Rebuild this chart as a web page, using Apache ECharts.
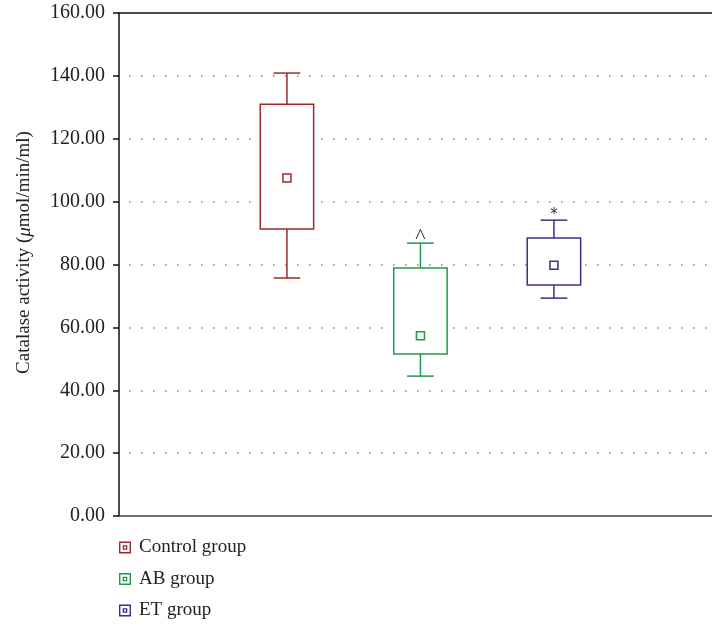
<!DOCTYPE html>
<html>
<head>
<meta charset="utf-8">
<script src="https://cdn.jsdelivr.net/npm/echarts@6/dist/echarts.min.js"></script>
<style>
  html, body { margin: 0; padding: 0; background: #fff; }
  #chart { width: 712px; height: 627px; }
</style>
</head>
<body>
<div id="chart"></div>
<script>
// Catalase activity per group: whisker ends, quartiles and centre marker
const groups   = ['Control group', 'AB group', 'ET group'];
const lowValues  = [75.7, 44.5, 69.3];
const q1Values   = [91.3, 51.5, 73.5];
const midValues  = [107.5, 57.3, 79.8];
const q3Values   = [131.0, 78.9, 88.4];
const highValues = [140.9, 86.8, 94.1];
const significance = ['', '^', '*'];
const colors = ['#9e2b2b', '#1f9a48', '#33338c'];
const yTicks = [0, 20, 40, 60, 80, 100, 120, 140, 160];

const serif = '"Liberation Serif", "DejaVu Serif", serif';

function renderBox(params, api) {
  const x = api.value(0);
  const low = api.value(1), q1 = api.value(2), mid = api.value(3),
        q3 = api.value(4), high = api.value(5);
  const g = params.seriesIndex;
  const c = colors[g];
  const pLow = api.coord([x, low]);
  const pQ1 = api.coord([x, q1]);
  const pMid = api.coord([x, mid]);
  const pQ3 = api.coord([x, q3]);
  const pHigh = api.coord([x, high]);
  const halfBox = api.size([0.2, 0])[0];
  const halfCap = api.size([0.1, 0])[0];
  const cx = pMid[0];
  const line = { stroke: c, lineWidth: 1.5 };
  const children = [
    { type: 'line', shape: { x1: cx, y1: pHigh[1], x2: cx, y2: pQ3[1] }, style: line },
    { type: 'line', shape: { x1: cx, y1: pQ1[1], x2: cx, y2: pLow[1] }, style: line },
    { type: 'line', shape: { x1: cx - halfCap, y1: pHigh[1], x2: cx + halfCap, y2: pHigh[1] }, style: line },
    { type: 'line', shape: { x1: cx - halfCap, y1: pLow[1], x2: cx + halfCap, y2: pLow[1] }, style: line },
    { type: 'rect', shape: { x: cx - halfBox, y: pQ3[1], width: 2 * halfBox, height: pQ1[1] - pQ3[1] },
      style: { fill: '#fff', stroke: c, lineWidth: 1.5 } },
    { type: 'rect', shape: { x: cx - 4, y: pMid[1] - 4, width: 8, height: 8 },
      style: { fill: '#fff', stroke: c, lineWidth: 1.5 } }
  ];
  const mark = significance[g];
  if (mark) {
    // significance marks sit just above the upper whisker cap
    const caret = mark === '^';
    children.push({
      type: 'text',
      style: {
        text: mark, x: cx, y: pHigh[1] - (caret ? 17 : 13),
        align: 'center', verticalAlign: 'top',
        fontFamily: caret ? serif : '"DejaVu Sans", sans-serif',
        fontSize: caret ? 22 : 15, fill: '#333'
      }
    });
  }
  return { type: 'group', children: children };
}

const series = groups.map((name, i) => ({
  name: name,
  type: 'custom',
  renderItem: renderBox,
  itemStyle: { color: colors[i] },
  encode: { x: 0, y: [1, 2, 3, 4, 5] },
  data: [[i + 1, lowValues[i], q1Values[i], midValues[i], q3Values[i], highValues[i]]],
  z: 3
}));

// legend marker: outlined square with a small outlined square inside
const legendIcon = 'path://M0,0L11,0L11,11L0,11Z M1.3,1.3L1.3,9.7L9.7,9.7L9.7,1.3Z ' +
  'M3.4,3.4L7.6,3.4L7.6,7.6L3.4,7.6Z M4.6,4.6L4.6,6.4L6.4,6.4L6.4,4.6Z';

const chart = echarts.init(document.getElementById('chart'), null, { renderer: 'canvas' });
chart.setOption({
  animation: false,
  backgroundColor: '#fff',
  grid: { left: 119, top: 13, right: 0, bottom: 111, containLabel: false, outerBoundsMode: 'none' },
  legend: {
    data: groups,
    orient: 'vertical',
    left: 119,
    top: 538,
    padding: 0,
    itemWidth: 12,
    itemHeight: 12,
    itemGap: 12.5,
    icon: legendIcon,
    selectedMode: false,
    textStyle: { fontFamily: serif, fontSize: 19, lineHeight: 18, color: '#222', padding: [0, 0, 0, 3] }
  },
  xAxis: [
    {
      type: 'value', min: -0.258, max: 4.184,
      axisLine: { show: true, onZero: false, lineStyle: { color: '#444', width: 1.5 } },
      axisTick: { show: false }, axisLabel: { show: false }, splitLine: { show: false }
    },
    {
      type: 'value', position: 'top', min: -0.258, max: 4.184,
      axisLine: { show: true, onZero: false, lineStyle: { color: '#111', width: 1.5 } },
      axisTick: { show: false }, axisLabel: { show: false }, splitLine: { show: false }
    }
  ],
  yAxis: {
    type: 'value', min: yTicks[0], max: yTicks[yTicks.length - 1], interval: 20,
    name: '{a|Catalase activity (}{b|μ}{a|mol/min/ml)}',
    nameLocation: 'middle',
    nameGap: 85,
    nameTextStyle: {
      padding: [0, 0, 0, 24],
      rich: {
        a: { fontFamily: serif, fontSize: 19, color: '#222' },
        b: { fontFamily: serif, fontSize: 19, color: '#222', fontStyle: 'italic' }
      }
    },
    axisLine: { show: true, onZero: false, lineStyle: { color: '#111', width: 1.5 } },
    axisTick: { show: true, length: 6, lineStyle: { color: '#111', width: 1.5 } },
    axisLabel: {
      margin: 14, fontFamily: serif, fontSize: 20, color: '#222',
      formatter: v => v.toFixed(2)
    },
    splitLine: {
      show: true,
      showMinLine: false,
      showMaxLine: false,
      lineStyle: { color: '#888', width: 1.6, type: [1.6, 10.4], dashOffset: -10 }
    }
  },
  series: series
});
</script>
</body>
</html>
